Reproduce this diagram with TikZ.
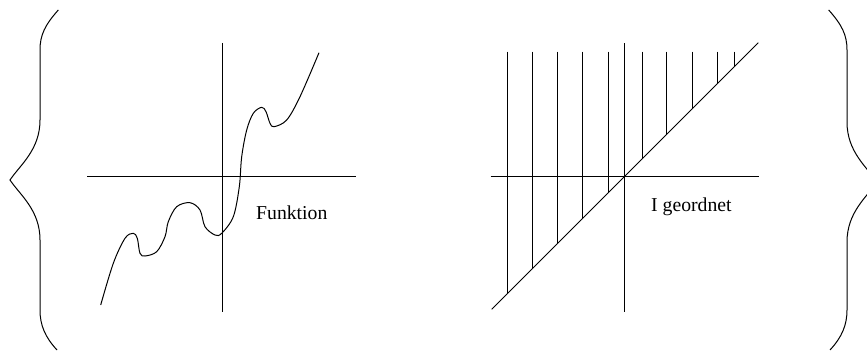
\documentclass[tikz,border=0pt]{standalone}
\usepackage{fontspec}
\setmainfont{Liberation Serif}
\begin{document}
\begin{tikzpicture}[x=1pt,y=-1pt,line width=1pt,
  lbl/.style={anchor=base west,inner sep=0pt,font=\fontsize{19.7}{24}\selectfont},
  brace/.style={line width=1pt}]
\useasboundingbox (0,0) rectangle (867,352);
\clip (0,0) rectangle (867,352);
% left brace
\draw[brace] (58.3,10) .. controls (45,25) and (40,35) .. (40,50) -- (40,120)
  .. controls (40,150) and (20,165) .. (10,180)
  .. controls (20,195) and (40,210) .. (40,240) -- (40,310)
  .. controls (40,325) and (45,337) .. (57,350);
% right brace (mirrored)
\begin{scope}[xshift=887pt,x=-1pt]
\draw[brace] (58.3,10) .. controls (45,25) and (40,35) .. (40,50) -- (40,122)
  .. controls (40,152) and (20,167) .. (10,182)
  .. controls (20,197) and (40,212) .. (40,242) -- (40,310)
  .. controls (40,325) and (45,337) .. (57,350);
\end{scope}
% left graph axes
\draw (87,176.7) -- (356,176.7);
\draw (222.3,43) -- (222.3,312);
% function curve
\draw plot[smooth,tension=0.55] coordinates {
 (100.7,305) (113.3,263.3) (125,238.3) (133.3,233.3) (137.3,238.3) (140,253.3)
 (145,256) (156.7,251.7) (165,236.7) (168.3,221.7) (176.7,206.7) (190,202.7)
 (200,210) (205,226.7) (215,235) (221.7,233.3) (233.3,216.7) (239.3,186.7)
 (241.7,156.7) (246.7,130) (253.3,113.3) (261.7,107.3) (266,111.7) (270,123.3)
 (274,126.7) (286.7,120) (300,96.7) (319,52.7)};
\node[lbl] (funk) at (255.7,220) {Funktion};
% right graph axes
\draw (490.7,176.7) -- (759.3,176.7);
\draw (624.3,43.3) -- (624.3,311.7);
\draw (491.7,309.3) -- (758.3,42.7);
\foreach \x in {507.3,532.7,557.7,582.7,608.3,642,666.7,692,717.3,734.3}
  \draw (\x,51.7) -- (\x,{176.7-(\x-624.3)});
\node[lbl] (ord) at (650.7,211.7) {I geordnet};
\end{tikzpicture}
\end{document}
